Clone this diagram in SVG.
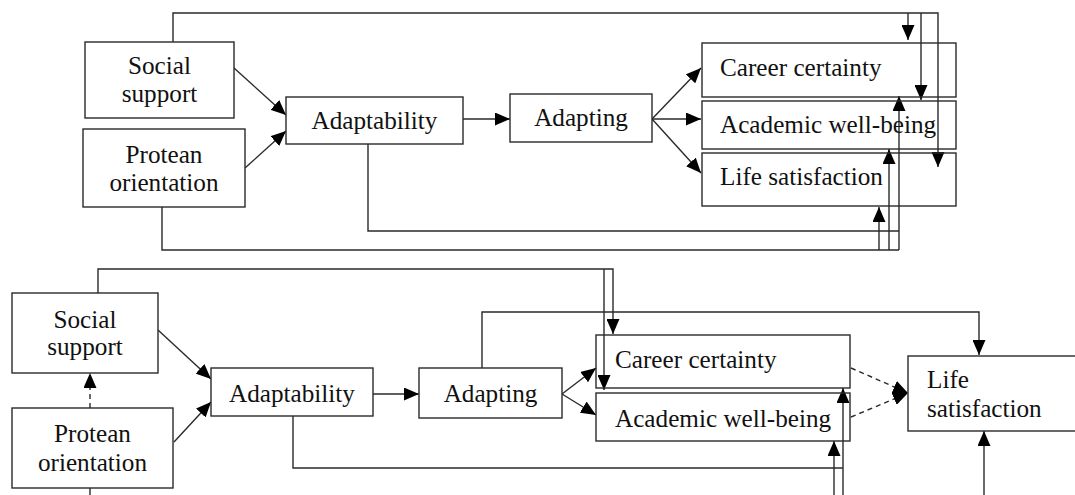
<svg xmlns="http://www.w3.org/2000/svg" width="1075" height="495" viewBox="0 0 1075 495">
<style>
.box{fill:#fff;stroke:#2a2a2a;stroke-width:1.4}
.ln{fill:none;stroke:#2a2a2a;stroke-width:1.4}
.dash{stroke-dasharray:5,4}
text{font-size:25.2px;fill:#111}
.c{text-anchor:middle}
</style>
<defs>
<marker id="ah" markerUnits="userSpaceOnUse" markerWidth="15" markerHeight="13" refX="15" refY="6.5" orient="auto">
<path d="M0,0 L15,6.5 L0,13 z" fill="#000"/>
</marker>
</defs>
<rect width="1075" height="495" fill="#fff"/>

<g id="connectors">
<path class="ln" d="M173,42 V13 H938 V167" marker-end="url(#ah)"/>
<path class="ln" d="M908,13 V40" marker-end="url(#ah)"/>
<path class="ln" d="M921,13 V100" marker-end="url(#ah)"/>
<path class="ln" d="M368,144 V231 H899"/>
<path class="ln" d="M162,207 V250 H899"/>
<path class="ln" d="M879,250 V207" marker-end="url(#ah)"/>
<path class="ln" d="M889,250 V149" marker-end="url(#ah)"/>
<path class="ln" d="M899,250 V96" marker-end="url(#ah)"/>
<path class="ln" d="M234,68 L286,115" marker-end="url(#ah)"/>
<path class="ln" d="M245,168 L286,131" marker-end="url(#ah)"/>
<path class="ln" d="M463,119 H510" marker-end="url(#ah)"/>
<path class="ln" d="M652,119 L701,68" marker-end="url(#ah)"/>
<path class="ln" d="M652,119 H701" marker-end="url(#ah)"/>
<path class="ln" d="M652,119 L701,173" marker-end="url(#ah)"/>
<path class="ln" d="M98,293 V269 H613 V334" marker-end="url(#ah)"/>
<path class="ln" d="M604,269 V390" marker-end="url(#ah)"/>
<path class="ln dash" d="M90,408 V373" marker-end="url(#ah)"/>
<path class="ln" d="M90,488 V496"/>
<path class="ln" d="M158,330 L211,379" marker-end="url(#ah)"/>
<path class="ln" d="M174,442 L211,402" marker-end="url(#ah)"/>
<path class="ln" d="M373,394 H419" marker-end="url(#ah)"/>
<path class="ln" d="M293,416 V468 H843"/>
<path class="ln" d="M482,368 V312 H979 V355" marker-end="url(#ah)"/>
<path class="ln" d="M562,394 L596,368" marker-end="url(#ah)"/>
<path class="ln" d="M562,394 L596,415" marker-end="url(#ah)"/>
<path class="ln" d="M834,496 V441" marker-end="url(#ah)"/>
<path class="ln" d="M843,496 V388" marker-end="url(#ah)"/>
<path class="ln" d="M984,496 V431" marker-end="url(#ah)"/>
<path class="ln dash" d="M851,368 L908,393" marker-end="url(#ah)"/>
<path class="ln dash" d="M851,417 L908,393" marker-end="url(#ah)"/>
</g>

<g font-family="'Liberation Serif', 'Times New Roman', Tinos, serif">
<g id="t-social"><rect class="box" x="85" y="42" width="149" height="76"/><text class="c" x="159.5" y="74">Social</text><text class="c" x="159.5" y="102">support</text></g>
<g id="t-protean"><rect class="box" x="83" y="129" width="162" height="78"/><text class="c" x="164" y="163">Protean</text><text class="c" x="164" y="191">orientation</text></g>
<g id="t-adaptability"><rect class="box" x="286" y="97" width="177" height="47"/><text class="c" x="374.5" y="129">Adaptability</text></g>
<g id="t-adapting"><rect class="box" x="510" y="94" width="142" height="48"/><text class="c" x="581" y="126">Adapting</text></g>
<g id="t-career"><rect class="box" x="702" y="43" width="254" height="54" fill-opacity="0"/><text x="720" y="76">Career certainty</text></g>
<g id="t-academic"><rect class="box" x="702" y="101" width="254" height="48" fill-opacity="0"/><text x="720" y="133">Academic well-being</text></g>
<g id="t-life"><rect class="box" x="702" y="153" width="254" height="53" fill-opacity="0"/><text x="720" y="185">Life satisfaction</text></g>

<g id="b-social"><rect class="box" x="12" y="293" width="146" height="80"/><text class="c" x="85" y="328">Social</text><text class="c" x="85" y="355">support</text></g>
<g id="b-protean"><rect class="box" x="12" y="408" width="161" height="80"/><text class="c" x="92.5" y="442">Protean</text><text class="c" x="92.5" y="471">orientation</text></g>
<g id="b-adaptability"><rect class="box" x="211" y="368" width="162" height="48"/><text class="c" x="292" y="402">Adaptability</text></g>
<g id="b-adapting"><rect class="box" x="419" y="368" width="143" height="50"/><text class="c" x="490.5" y="402">Adapting</text></g>
<g id="b-career"><rect class="box" x="596" y="335" width="254" height="53" fill-opacity="0"/><text x="615" y="368">Career certainty</text></g>
<g id="b-academic"><rect class="box" x="596" y="393" width="254" height="48" fill-opacity="0"/><text x="615" y="427">Academic well-being</text></g>
<g id="b-life"><rect class="box" x="908" y="356" width="190" height="75"/><text x="927" y="388">Life</text><text x="927" y="417">satisfaction</text></g>
</g>
</svg>
